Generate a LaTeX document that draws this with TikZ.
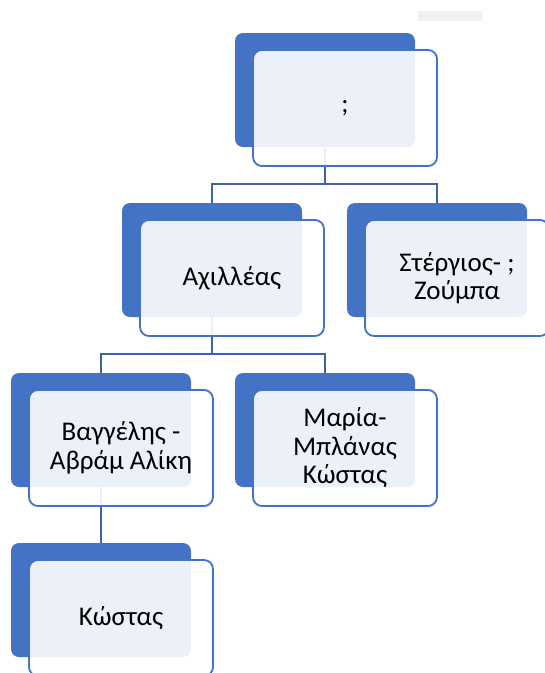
\documentclass[tikz,border=0pt]{standalone}
\usepackage{fontspec}
\setmainfont{Carlito}
\usetikzlibrary{calc}
\definecolor{smartblue}{RGB}{68,114,196}
\definecolor{linkblue}{RGB}{62,98,168}
\tikzstyle{back} = [draw=none,fill=smartblue,rounded corners=8pt,minimum width=180pt,minimum height=114pt,inner sep=0pt]
\tikzstyle{front} = [draw=smartblue,line width=1.8pt,fill=white,fill opacity=0.9,text opacity=1,rounded corners=9pt,minimum width=184pt,minimum height=116pt,inner sep=0pt,align=center,font=\fontsize{27}{28.5}\selectfont]
\tikzstyle{link} = [draw=linkblue,line width=2.2pt]

\begin{document}
\begin{tikzpicture}[x=1pt,y=-1pt]
	\useasboundingbox (0,0) rectangle (545,673);
	\clip (0,0) rectangle (545,673);
	\fill[gray!10] (418,11) rectangle (483,21);

	%Back boxes
	\node[back] (bTop) at (325,90) {};
	\node[back] (bA) at (212,260) {};
	\node[back] (bS) at (437,260) {};
	\node[back] (bV) at (101,430) {};
	\node[back] (bM) at (325,430) {};
	\node[back] (bK) at (101,600) {};

	%Lines
	\coordinate (jTop) at ($(bTop.south |- bA.north)+(0,-19)$);
	\coordinate (jA) at ($(bA.south |- bV.north)+(0,-19)$);
	\draw[link] (bTop.south) -- (jTop);
	\draw[link] (bA.north) |- (jTop) -| (bS.north);
	\draw[link] (bA.south) -- (jA);
	\draw[link] (bV.north) |- (jA) -| (bM.north);
	\draw[link] (bV.south) -- (bK.north);

	%Front boxes
	\node[front] (fTop) at ($(bTop)+(20,18)$) {;};
	\node[front] (fA) at ($(bA)+(20,18)$) {Αχιλλέας};
	\node[front] (fS) at ($(bS)+(20,18)$) {Στέργιος- ;\\Ζούμπα};
	\node[front] (fV) at ($(bV)+(20,18)$) {Βαγγέλης -\\Αβράμ Αλίκη};
	\node[front] (fM) at ($(bM)+(20,18)$) {Μαρία-\\Μπλάνας\\Κώστας};
	\node[front] (fK) at ($(bK)+(20,18)$) {Κώστας};
\end{tikzpicture}
\end{document}
